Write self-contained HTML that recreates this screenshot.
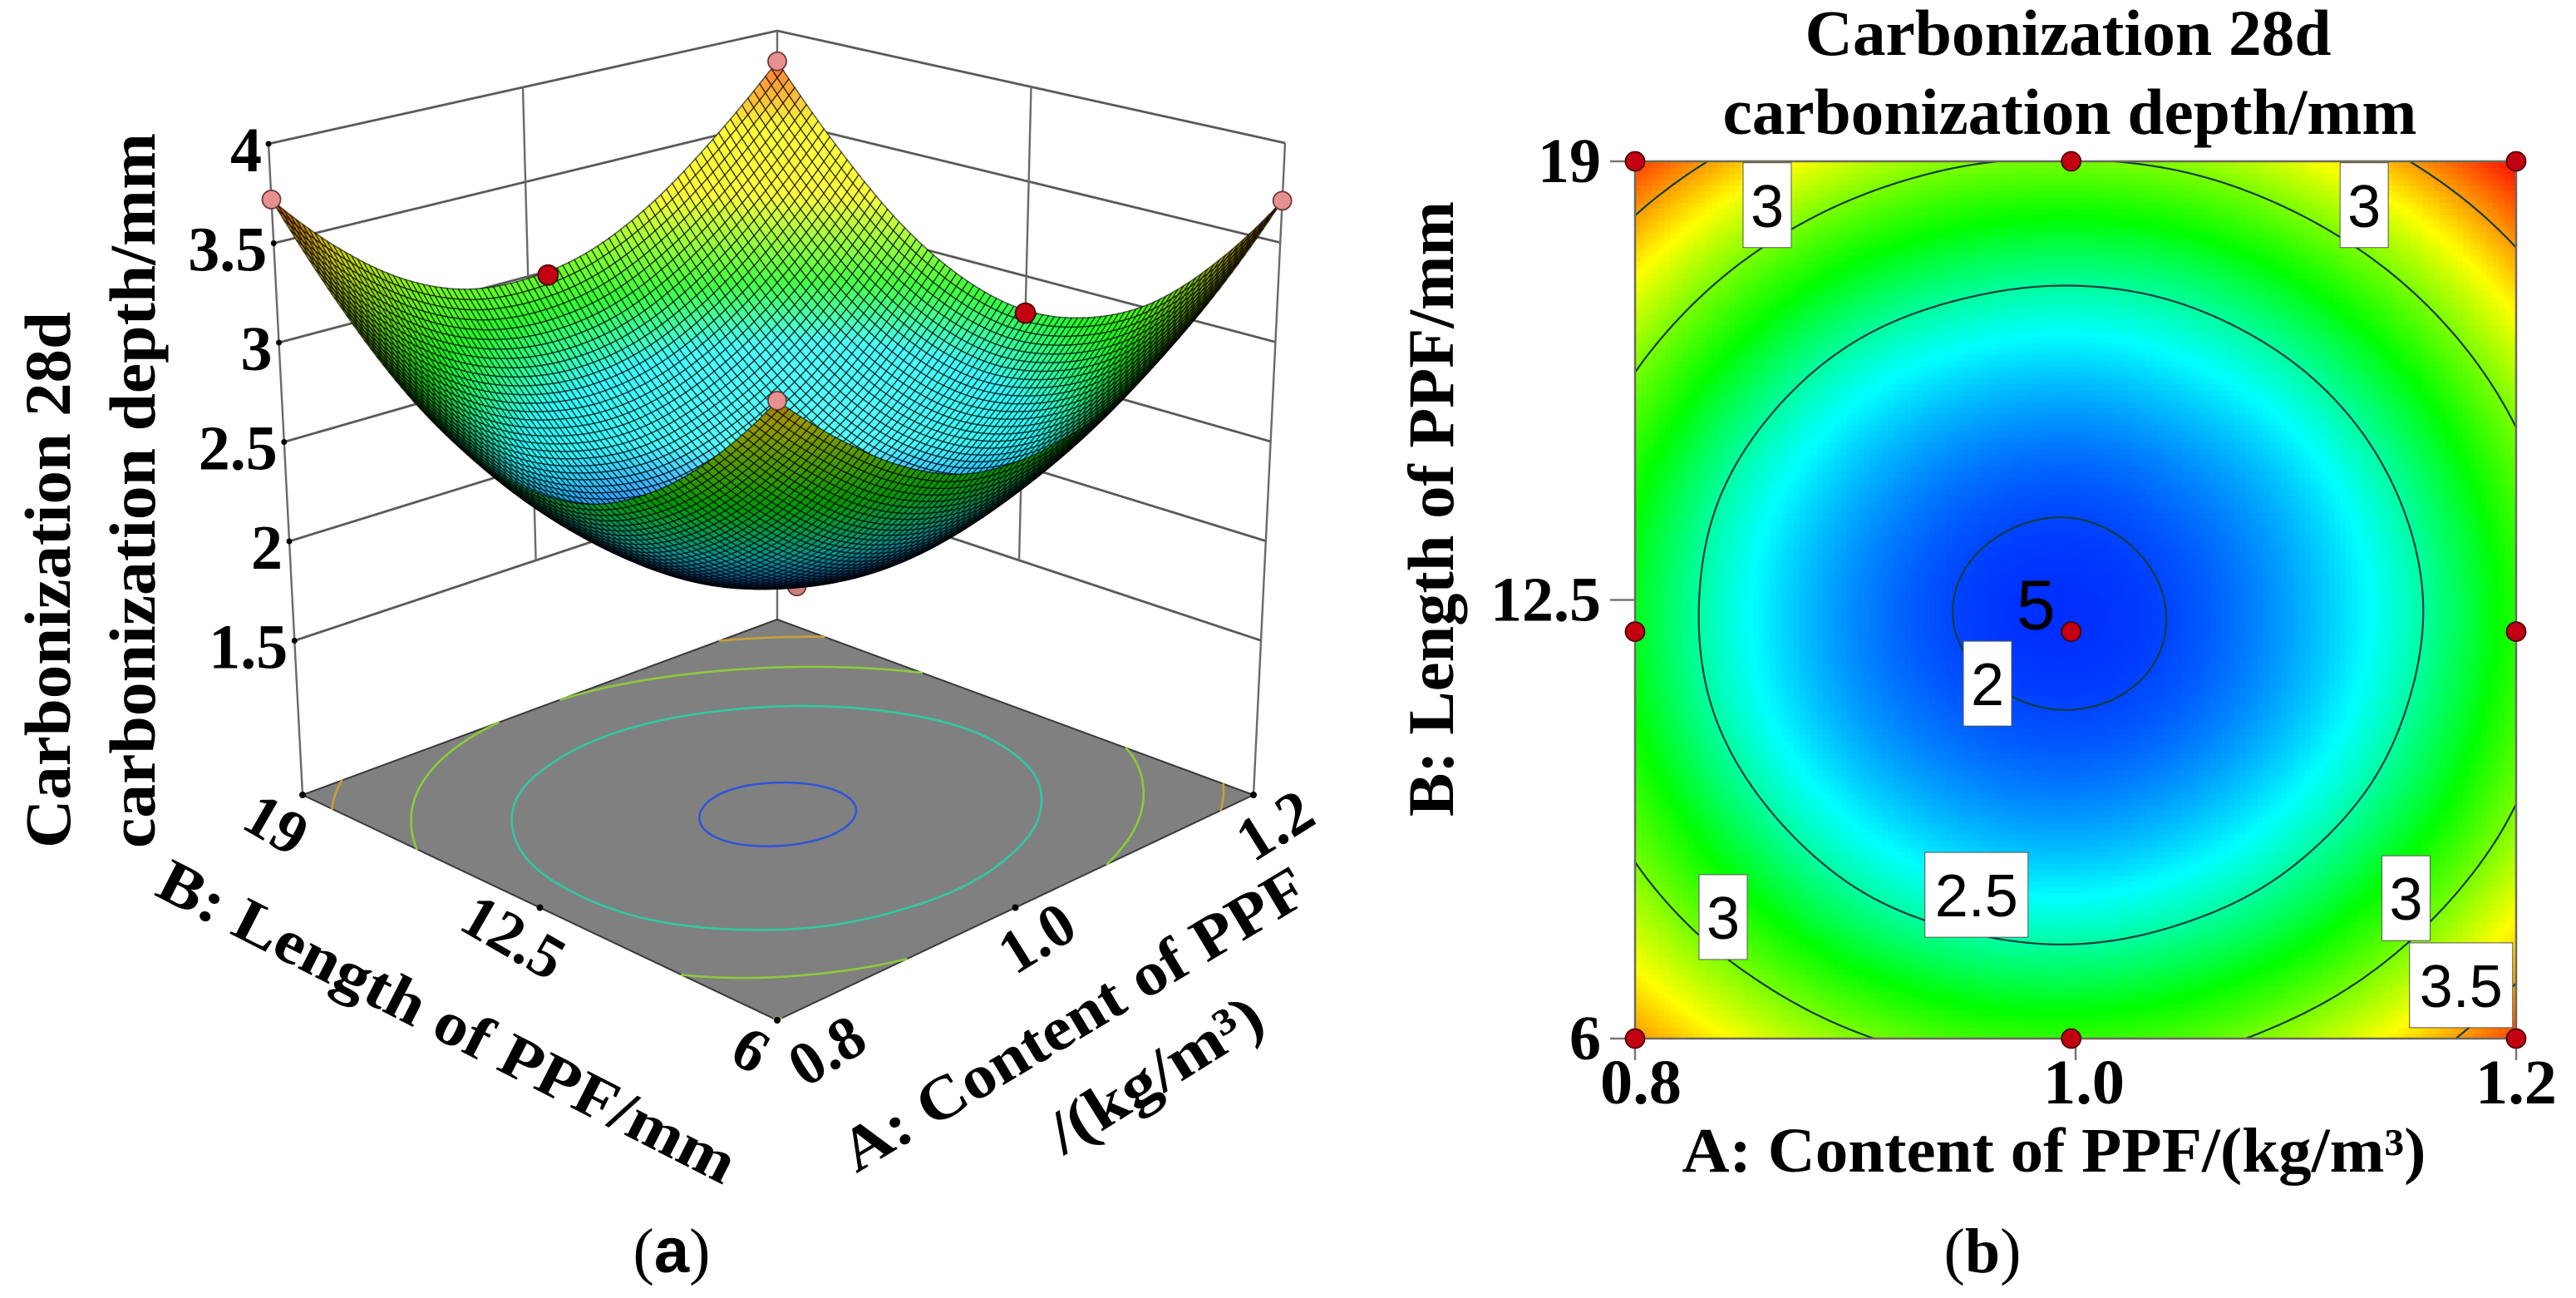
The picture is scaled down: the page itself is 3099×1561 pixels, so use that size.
<!DOCTYPE html>
<html lang="en">
<head>
<meta charset="utf-8">
<title>Carbonization 28d carbonization depth response surface and contour</title>
<style>
html,body{margin:0;padding:0;background:#fff;}
svg{display:block;}
text{font-family:"Liberation Serif","Noto Serif CJK SC",serif;fill:#000;}
</style>
</head>
<body>
<svg id="figure" xmlns="http://www.w3.org/2000/svg" width="3099" height="1561" viewBox="0 0 3099 1561">
  <rect x="0" y="0" width="3099" height="1561" fill="#fff"/>
  <g id="panelA">
    <g id="walls"></g>
    <g id="floor"></g>
    <g id="hiddenPts"></g>
    <g id="surface"></g>
    <g id="surfacePts"></g>
    <g id="ticksA"></g>
    <text transform="translate(84,1020) rotate(-90)" font-size="78" font-weight="bold" textLength="645" lengthAdjust="spacingAndGlyphs">Carbonization 28d</text>
    <text transform="translate(186,1020) rotate(-90)" font-size="78" font-weight="bold" textLength="860" lengthAdjust="spacingAndGlyphs">carbonization depth/mm</text>
    <text transform="translate(538,1229) rotate(27)" dy="24" text-anchor="middle" font-size="74" font-weight="bold" textLength="770" lengthAdjust="spacingAndGlyphs">B: Length of PPF/mm</text>
    <text transform="translate(1292,1226) rotate(-31)" dy="24" text-anchor="middle" font-size="74" font-weight="bold" textLength="640" lengthAdjust="spacingAndGlyphs">A: Content of PPF</text>
    <text transform="translate(1390,1292) rotate(-32)" dy="24" text-anchor="middle" font-size="74" font-weight="bold" textLength="290" lengthAdjust="spacingAndGlyphs">/(kg/m³)</text>
    <text x="808" y="1530" text-anchor="middle" font-size="76">(<tspan font-weight="bold" font-family="Liberation Sans, sans-serif">a</tspan>)</text>
  </g>
  <g id="panelB">
    <g id="heat"></g>
    <g id="contours"></g>
    <g id="frameB"></g>
    <g id="labelsB"></g>
    <g id="ptsB"></g>
    <g id="ticksB"></g>
    <text x="2488" y="66" text-anchor="middle" font-size="78" font-weight="bold" textLength="633" lengthAdjust="spacingAndGlyphs">Carbonization 28d</text>
    <text x="2490" y="161" text-anchor="middle" font-size="78" font-weight="bold" textLength="835" lengthAdjust="spacingAndGlyphs">carbonization depth/mm</text>
    <text x="2471" y="1409" text-anchor="middle" font-size="76" font-weight="bold" textLength="895" lengthAdjust="spacingAndGlyphs">A: Content of PPF/(kg/m³)</text>
    <text transform="translate(1748,982) rotate(-90)" font-size="78" font-weight="bold" textLength="740" lengthAdjust="spacingAndGlyphs">B: Length of PPF/mm</text>
    <text x="2385" y="1530" text-anchor="middle" font-size="76">(<tspan font-weight="bold">b</tspan>)</text>
  </g>
</svg>
<script>
// ---------- chart data ----------
const aLevels = [0.8, 0.85, 0.9, 0.95, 1.0, 1.05, 1.1, 1.15, 1.2];
const bLevels = [6, 7.625, 9.25, 10.875, 12.5, 14.125, 15.75, 17.375, 19];
const depthRowB06 = [3.52, 3.25, 3.03, 2.89, 2.86, 2.92, 3.09, 3.35, 3.71];
const depthRowB08 = [3.17, 2.86, 2.62, 2.49, 2.45, 2.52, 2.68, 2.95, 3.32];
const depthRowB09 = [2.91, 2.58, 2.34, 2.20, 2.16, 2.23, 2.40, 2.66, 3.03];
const depthRowB11 = [2.75, 2.41, 2.17, 2.04, 2.00, 2.06, 2.23, 2.50, 2.87];
const depthRowB12 = [2.71, 2.37, 2.13, 1.99, 1.96, 2.02, 2.19, 2.45, 2.82];
const depthRowB14 = [2.78, 2.44, 2.21, 2.07, 2.03, 2.10, 2.26, 2.53, 2.90];
const depthRowB16 = [2.98, 2.64, 2.40, 2.27, 2.23, 2.30, 2.46, 2.73, 3.10];
const depthRowB17 = [3.30, 2.96, 2.72, 2.59, 2.55, 2.61, 2.78, 3.05, 3.42];
const depthRowB19 = [3.72, 3.40, 3.16, 3.02, 2.99, 3.05, 3.22, 3.49, 3.83];
const depthGrid = [depthRowB06, depthRowB08, depthRowB09, depthRowB11, depthRowB12, depthRowB14, depthRowB16, depthRowB17, depthRowB19];
const contourLevels = [2, 2.5, 3, 3.5];
const zTicks = [1.5, 2, 2.5, 3, 3.5, 4];
const zTickLabels = ["1.5", "2", "2.5", "3", "3.5", "4"];
const aTicks = [0.8, 1.0, 1.2];
const aTickLabels = ["0.8", "1.0", "1.2"];
const bTicks = [6, 12.5, 19];
const bTickLabels = ["6", "12.5", "19"];
const surfacePointA = [0.8, 1.2, 1.2, 0.8, 1.016, 1.2];
const surfacePointB = [19, 19, 6, 6, 19, 12.5];
const surfacePointZ = [3.72, 3.83, 3.71, 3.52, 2.98, 2.805];
const surfacePointKind = ["corner", "corner", "corner", "corner", "edge", "edge"];
const hiddenPointA = [1.008];
const hiddenPointB = [12.24];
const hiddenPointZ = [1.83];
const designPointA = [0.8, 0.998, 1.2, 0.8, 0.998, 1.2, 0.8, 0.998, 1.2];
const designPointB = [19, 19, 19, 12.03, 12.03, 12.03, 6, 6, 6];
const contourLabelText = ["3", "3", "2", "2.5", "3", "3", "3.5"];
const contourLabelA = [0.86, 1.131, 0.96, 0.955, 0.84, 1.15, 1.175];
const contourLabelB = [18.35, 18.35, 11.26, 8.13, 7.8, 8.08, 6.79];
const designCountLabel = "5";
const designCountA = 0.982;
const designCountB = 12.44;

// ---------- helpers ----------
const NS = "http://www.w3.org/2000/svg";
function make(tag, attrs, parent) {
  const e = document.createElementNS(NS, tag);
  for (const k in attrs) e.setAttribute(k, attrs[k]);
  parent.appendChild(e);
  return e;
}
function $(id) { return document.getElementById(id); }

// ---------- response interpolation over the read grid ----------
function gridAt(i, j) {
  const n = aLevels.length, m = bLevels.length;
  if (i < 0) return 3 * gridAt(0, j) - 3 * gridAt(1, j) + gridAt(2, j);
  if (i > n - 1) return 3 * gridAt(n - 1, j) - 3 * gridAt(n - 2, j) + gridAt(n - 3, j);
  if (j < 0) return 3 * gridAt(i, 0) - 3 * gridAt(i, 1) + gridAt(i, 2);
  if (j > m - 1) return 3 * gridAt(i, m - 1) - 3 * gridAt(i, m - 2) + gridAt(i, m - 3);
  return depthGrid[j][i];
}
function cubic(p0, p1, p2, p3, t) {
  return p1 + 0.5 * t * (p2 - p0 + t * (2 * p0 - 5 * p1 + 4 * p2 - p3 + t * (3 * (p1 - p2) + p3 - p0)));
}
function depth(a, b) {
  const n = aLevels.length, m = bLevels.length;
  const fi = (a - aLevels[0]) / (aLevels[n - 1] - aLevels[0]) * (n - 1);
  const fj = (b - bLevels[0]) / (bLevels[m - 1] - bLevels[0]) * (m - 1);
  const i = Math.min(n - 2, Math.max(0, Math.floor(fi)));
  const j = Math.min(m - 2, Math.max(0, Math.floor(fj)));
  const tx = fi - i, ty = fj - j;
  const rows = [];
  for (let r = -1; r <= 2; r++) {
    rows.push(cubic(gridAt(i - 1, j + r), gridAt(i, j + r), gridAt(i + 1, j + r), gridAt(i + 2, j + r), tx));
  }
  return cubic(rows[0], rows[1], rows[2], rows[3], ty);
}
function rampRGB(z) {
  const zs = [1.87, 2.35, 2.75, 3.28, 3.85];
  const cs = [[0, 0, 255], [0, 255, 255], [0, 255, 0], [255, 255, 0], [255, 0, 0]];
  if (z <= zs[0]) return cs[0].slice();
  for (let k = 0; k < zs.length - 1; k++) {
    if (z <= zs[k + 1]) {
      const t = (z - zs[k]) / (zs[k + 1] - zs[k]);
      return [0, 1, 2].map(c => cs[k][c] + (cs[k + 1][c] - cs[k][c]) * t);
    }
  }
  return cs[4].slice();
}
function css(c) { return "rgb(" + c.map(v => Math.max(0, Math.min(255, Math.round(v)))).join(",") + ")"; }

function contourSegments(level, nx, ny) {
  const A0 = aLevels[0], A1 = aLevels[aLevels.length - 1], B0 = bLevels[0], B1 = bLevels[bLevels.length - 1];
  const vals = [];
  for (let i = 0; i <= nx; i++) {
    vals.push([]);
    for (let j = 0; j <= ny; j++) vals[i].push(depth(A0 + (A1 - A0) * i / nx, B0 + (B1 - B0) * j / ny));
  }
  const segs = [];
  function cross(p, q) {
    const t = (level - p[2]) / (q[2] - p[2]);
    return [p[0] + (q[0] - p[0]) * t, p[1] + (q[1] - p[1]) * t];
  }
  for (let i = 0; i < nx; i++) {
    for (let j = 0; j < ny; j++) {
      const a0 = A0 + (A1 - A0) * i / nx, a1 = A0 + (A1 - A0) * (i + 1) / nx;
      const b0 = B0 + (B1 - B0) * j / ny, b1 = B0 + (B1 - B0) * (j + 1) / ny;
      const c = [[a0, b0, vals[i][j]], [a1, b0, vals[i + 1][j]], [a1, b1, vals[i + 1][j + 1]], [a0, b1, vals[i][j + 1]]];
      const hits = [];
      for (let k = 0; k < 4; k++) {
        const p = c[k], q = c[(k + 1) % 4];
        if ((p[2] < level) !== (q[2] < level)) hits.push(cross(p, q));
      }
      if (hits.length >= 2) segs.push([hits[0], hits[1]]);
      if (hits.length === 4) segs.push([hits[2], hits[3]]);
    }
  }
  return segs;
}

// ---------- panel (a): 3D axis functions ----------
const zFloor = 0.724, zTop = 4;
function lerp4(c00, c10, c01, c11, u, v) {
  return c00 * (1 - u) * (1 - v) + c10 * u * (1 - v) + c01 * (1 - u) * v + c11 * u * v;
}
function uOf(a) { return (a - 0.8) / 0.4; }
function vOf(b) { return (b - 6) / 13; }
function wOf(z) { return (z - zFloor) / (zTop - zFloor); }
function project(a, b, z) {
  const u = uOf(a), v = vOf(b), w = wOf(z);
  const xF = lerp4(935, 1508, 364, 935, u, v), yF = lerp4(1227, 956, 956, 745, u, v);
  const xT = lerp4(935, 1546, 323, 935, u, v), yT = lerp4(354, 172, 173, 37, u, v);
  return [xF + (xT - xF) * w, yF + (yT - yF) * w];
}
function pairStr(p) { return p[0].toFixed(1) + "," + p[1].toFixed(1); }

// walls
(function () {
  const walls = $("walls");
  const aLo = aTicks[0], aMid = aTicks[1], aHi = aTicks[2], bLo = bTicks[0], bMid = bTicks[1], bHi = bTicks[2];
  zTicks.forEach(function (z) {
    const pts = [project(aLo, bHi, z), project(aHi, bHi, z), project(aHi, bLo, z)].map(pairStr).join(" ");
    const line = make("polyline", { points: pts, fill: "none", stroke: "#5a5a5a", "stroke-width": 2.8 }, walls);
    
    
  });
  const bottomZ = zTicks[0], topZ = zTicks[zTicks.length - 1];
  [[aLo, bHi, zFloor], [aMid, bHi, bottomZ], [aHi, bHi, zFloor], [aHi, bMid, bottomZ], [aHi, bLo, zFloor]].forEach(function (c) {
    const p0 = project(c[0], c[1], c[2]), p1 = project(c[0], c[1], topZ);
    const line = make("line", { x1: p0[0], y1: p0[1], x2: p1[0], y2: p1[1], stroke: "#6a6a6a", "stroke-width": 2.4 }, walls);
    
    
  });
  zTicks.forEach(function (z) {
    const p = project(aLo, bHi, z);
    const dot = make("circle", { cx: p[0], cy: p[1], r: 3.5, fill: "#000" }, walls);
    
    
  });
})();

// floor
(function () {
  const floor = $("floor");
  const corners = [[0.8, 6], [1.2, 6], [1.2, 19], [0.8, 19]].map(c => project(c[0], c[1], zFloor));
  const poly = make("polygon", { points: corners.map(pairStr).join(" "), fill: "#808080", stroke: "#3a3a3a", "stroke-width": 2 }, floor);
  
  
  const floorColors = ["#2f55d8", "#2fc9a0", "#8ccb3a", "#c9a035"];
  contourLevels.forEach(function (lv, idx) {
    const segs = contourSegments(lv, 90, 90);
    let d = "";
    segs.forEach(function (s) {
      d += "M" + pairStr(project(s[0][0], s[0][1], zFloor)) + "L" + pairStr(project(s[1][0], s[1][1], zFloor));
    });
    const path = make("path", { d: d, fill: "none", stroke: floorColors[idx], "stroke-width": 2.6, "stroke-linecap": "round" }, floor);
    
    
  });
  [[0.8, 19], [1.2, 6], [0.8, 6], [0.8, 12.5], [1.0, 6]].forEach(function (c) {
    const p = project(c[0], c[1], zFloor);
    const dot = make("circle", { cx: p[0], cy: p[1], r: 4, fill: "#000" }, floor);
    
    
  });
})();

// hidden centre point
hiddenPointA.forEach(function (a, i) {
  const p = project(a, hiddenPointB[i], hiddenPointZ[i]);
  const dot = make("circle", { cx: p[0], cy: p[1], r: 11, fill: "#c98080", stroke: "#5a2a2a", "stroke-width": 1.5 }, $("hiddenPts"));
  
  
});

// surface mesh
(function () {
  const N = 86, group = $("surface");
  const zv = [];
  for (let i = 0; i <= N; i++) {
    zv.push([]);
    for (let j = 0; j <= N; j++) zv[i].push(depth(0.8 + 0.4 * i / N, 6 + 13 * j / N));
  }
  const order = [];
  for (let i = 0; i < N; i++) for (let j = 0; j < N; j++) order.push([i, j]);
  order.sort((p, q) => (q[0] + q[1]) - (p[0] + p[1]));
  const scale = 1.07 / (zTop - zFloor);
  const L = [-0.35, -0.35, 0.87];
  const V = [-0.64, -0.64, 0.42];
  order.forEach(function (c) {
    const i = c[0], j = c[1];
    const a0 = 0.8 + 0.4 * i / N, a1 = 0.8 + 0.4 * (i + 1) / N;
    const b0 = 6 + 13 * j / N, b1 = 6 + 13 * (j + 1) / N;
    const pts = [project(a0, b0, zv[i][j]), project(a1, b0, zv[i + 1][j]), project(a1, b1, zv[i + 1][j + 1]), project(a0, b1, zv[i][j + 1])];
    let area = 0;
    for (let k = 0; k < 4; k++) {
      const p = pts[k], q = pts[(k + 1) % 4];
      area += p[0] * q[1] - q[0] * p[1];
    }
    const under = area > 0;
    const dzu = ((zv[i + 1][j] - zv[i][j]) + (zv[i + 1][j + 1] - zv[i][j + 1])) / 2 * N * scale;
    const dzv = ((zv[i][j + 1] - zv[i][j]) + (zv[i + 1][j + 1] - zv[i + 1][j])) / 2 * N * scale;
    const len = Math.sqrt(dzu * dzu + dzv * dzv + 1);
    const s = Math.abs((-dzu * L[0] - dzv * L[1] + L[2]) / len);
    const nv = Math.abs((-dzu * V[0] - dzv * V[1] + V[2]) / len);
    const zMid = (zv[i][j] + zv[i + 1][j] + zv[i][j + 1] + zv[i + 1][j + 1]) / 4;
    const base = rampRGB(zMid - 0.1);
    let bright, spec;
    if (under) {
      bright = 0.6 * (0.45 + 0.55 * Math.min(1, nv * 5));
      spec = 0;
    } else {
      bright = (0.32 + 0.82 * s) * (0.55 + 0.45 * Math.min(1, nv * 2.5));
      spec = Math.pow(s, 4) * 0.35;
    }
    const col = base.map(v => v * bright + 255 * spec);
    const poly = make("polygon", { points: pts.map(pairStr).join(" "), fill: css(col), stroke: "rgba(0,0,0,0.62)", "stroke-width": 1.5 }, group);
    
    
  });
})();

// surface design points
surfacePointA.forEach(function (a, i) {
  const p = project(a, surfacePointB[i], surfacePointZ[i]);
  const isCorner = surfacePointKind[i] === "corner";
  const dot = make("circle", { cx: p[0], cy: p[1], r: isCorner ? 11 : 12, fill: isCorner ? "#e79090" : "#c20012", stroke: isCorner ? "#6a3a3a" : "#4a0000", "stroke-width": 1.8 }, $("surfacePts"));
  
  
});

// panel (a) tick labels
(function () {
  const g = $("ticksA");
  zTicks.forEach(function (z, i) {
    const p = project(aTicks[0], bTicks[2], z);
    const t = make("text", { x: p[0] - 8, y: p[1] + 33, "text-anchor": "end", "font-size": 76, "font-weight": "bold" }, g);
    t.textContent = zTickLabels[i];
    
    
  });
  bTicks.forEach(function (b, i) {
    const p = project(aTicks[0], b, zFloor);
    const cx = p[0] - 32, cy = p[1] + 36;
    const t = make("text", { transform: "translate(" + cx + "," + cy + ") rotate(30)", dy: 24, "text-anchor": "middle", "font-size": 74, "font-weight": "bold" }, g);
    t.textContent = bTickLabels[i];
    
    
  });
  aTicks.forEach(function (a, i) {
    const p = project(a, bTicks[0], zFloor);
    const cx = p[0] + (i === 0 ? 60 : 26), cy = p[1] + 37;
    const t = make("text", { transform: "translate(" + cx + "," + cy + ") rotate(-32)", dy: 24, "text-anchor": "middle", "font-size": 74, "font-weight": "bold" }, g);
    t.textContent = aTickLabels[i];
    
    
  });
})();

// ---------- panel (b): 2D axis functions ----------
const plotLeft = 1967, plotRight = 3027, plotTop = 194, plotBottom = 1249;
function xA(a) { return plotLeft + (a - 0.8) / 0.4 * (plotRight - plotLeft); }
function yB(b) { return plotBottom - (b - 6) / 13 * (plotBottom - plotTop); }

// heatmap
(function () {
  const cols = 150, rows = 150, g = $("heat");
  for (let i = 0; i < cols; i++) {
    for (let j = 0; j < rows; j++) {
      const a0 = 0.8 + 0.4 * i / cols, a1 = 0.8 + 0.4 * (i + 1) / cols;
      const b0 = 6 + 13 * j / rows, b1 = 6 + 13 * (j + 1) / rows;
      const r = make("rect", {
        x: xA(a0).toFixed(1), y: yB(b1).toFixed(1),
        width: (xA(a1) - xA(a0) + 1).toFixed(1), height: (yB(b0) - yB(b1) + 1).toFixed(1),
        fill: css(rampRGB(depth((a0 + a1) / 2, (b0 + b1) / 2))), "shape-rendering": "crispEdges"
      }, g);
      
      
    }
  }
})();

// contour lines
contourLevels.forEach(function (lv) {
  const segs = contourSegments(lv, 140, 140);
  let d = "";
  segs.forEach(function (s) {
    d += "M" + xA(s[0][0]).toFixed(1) + "," + yB(s[0][1]).toFixed(1) + "L" + xA(s[1][0]).toFixed(1) + "," + yB(s[1][1]).toFixed(1);
  });
  const path = make("path", { d: d, fill: "none", stroke: "#123c3c", "stroke-width": 2.2, "stroke-linecap": "round" }, $("contours"));
  
  
});

// frame and ticks
(function () {
  const f = $("frameB");
  const box = make("rect", { x: plotLeft, y: plotTop, width: plotRight - plotLeft, height: plotBottom - plotTop, fill: "none", stroke: "#6a6a5a", "stroke-width": 2.5 }, f);
  
  
  bTicks.forEach(function (b) {
    const tk = make("line", { x1: plotLeft - 30, x2: plotLeft, y1: yB(b), y2: yB(b), stroke: "#777", "stroke-width": 2.5 }, f);
    
    
  });
  aTicks.forEach(function (a) {
    const tk = make("line", { x1: xA(a), x2: xA(a), y1: plotBottom, y2: plotBottom + 26, stroke: "#777", "stroke-width": 2.5 }, f);
    
    
  });
  const g = $("ticksB");
  bTicks.forEach(function (b, i) {
    const t = make("text", { x: plotLeft - 41, y: yB(b) + 25, "text-anchor": "end", "font-size": 76, "font-weight": "bold" }, g);
    t.textContent = bTickLabels[i];
    
    
  });
  aTicks.forEach(function (a, i) {
    const t = make("text", { x: xA(a) + (i === 0 ? 7 : i === 1 ? 10 : 0), y: plotBottom + 78, "text-anchor": "middle", "font-size": 76, "font-weight": "bold", textLength: 98, lengthAdjust: "spacingAndGlyphs" }, g);
    t.textContent = aTickLabels[i];
    
    
  });
})();

// contour labels
contourLabelText.forEach(function (txt, i) {
  const cx = xA(contourLabelA[i]), cy = yB(contourLabelB[i]);
  const w = txt.length > 1 ? 124 : 58, h = 102;
  const box = make("rect", { x: cx - w / 2, y: cy - h / 2, width: w, height: h, fill: "#fff", stroke: "#555", "stroke-width": 1 }, $("labelsB"));
  
  
  const t = make("text", { x: cx, y: cy + 26, "text-anchor": "middle", "font-size": 72, style: 'font-family:"Liberation Sans",sans-serif' }, $("labelsB"));
  t.textContent = txt;
  
  
});
(function () {
  const t = make("text", { x: xA(designCountA), y: yB(designCountB) + 30, "text-anchor": "middle", "font-size": 84, style: 'font-family:"Liberation Sans",sans-serif' }, $("labelsB"));
  t.textContent = designCountLabel;
  
  
})();

// design points
designPointA.forEach(function (a, i) {
  const dot = make("circle", { cx: xA(a), cy: yB(designPointB[i]), r: 11.5, fill: "#c20012", stroke: "#4a0000", "stroke-width": 1.8 }, $("ptsB"));
  
  
});
</script>
</body>
</html>
